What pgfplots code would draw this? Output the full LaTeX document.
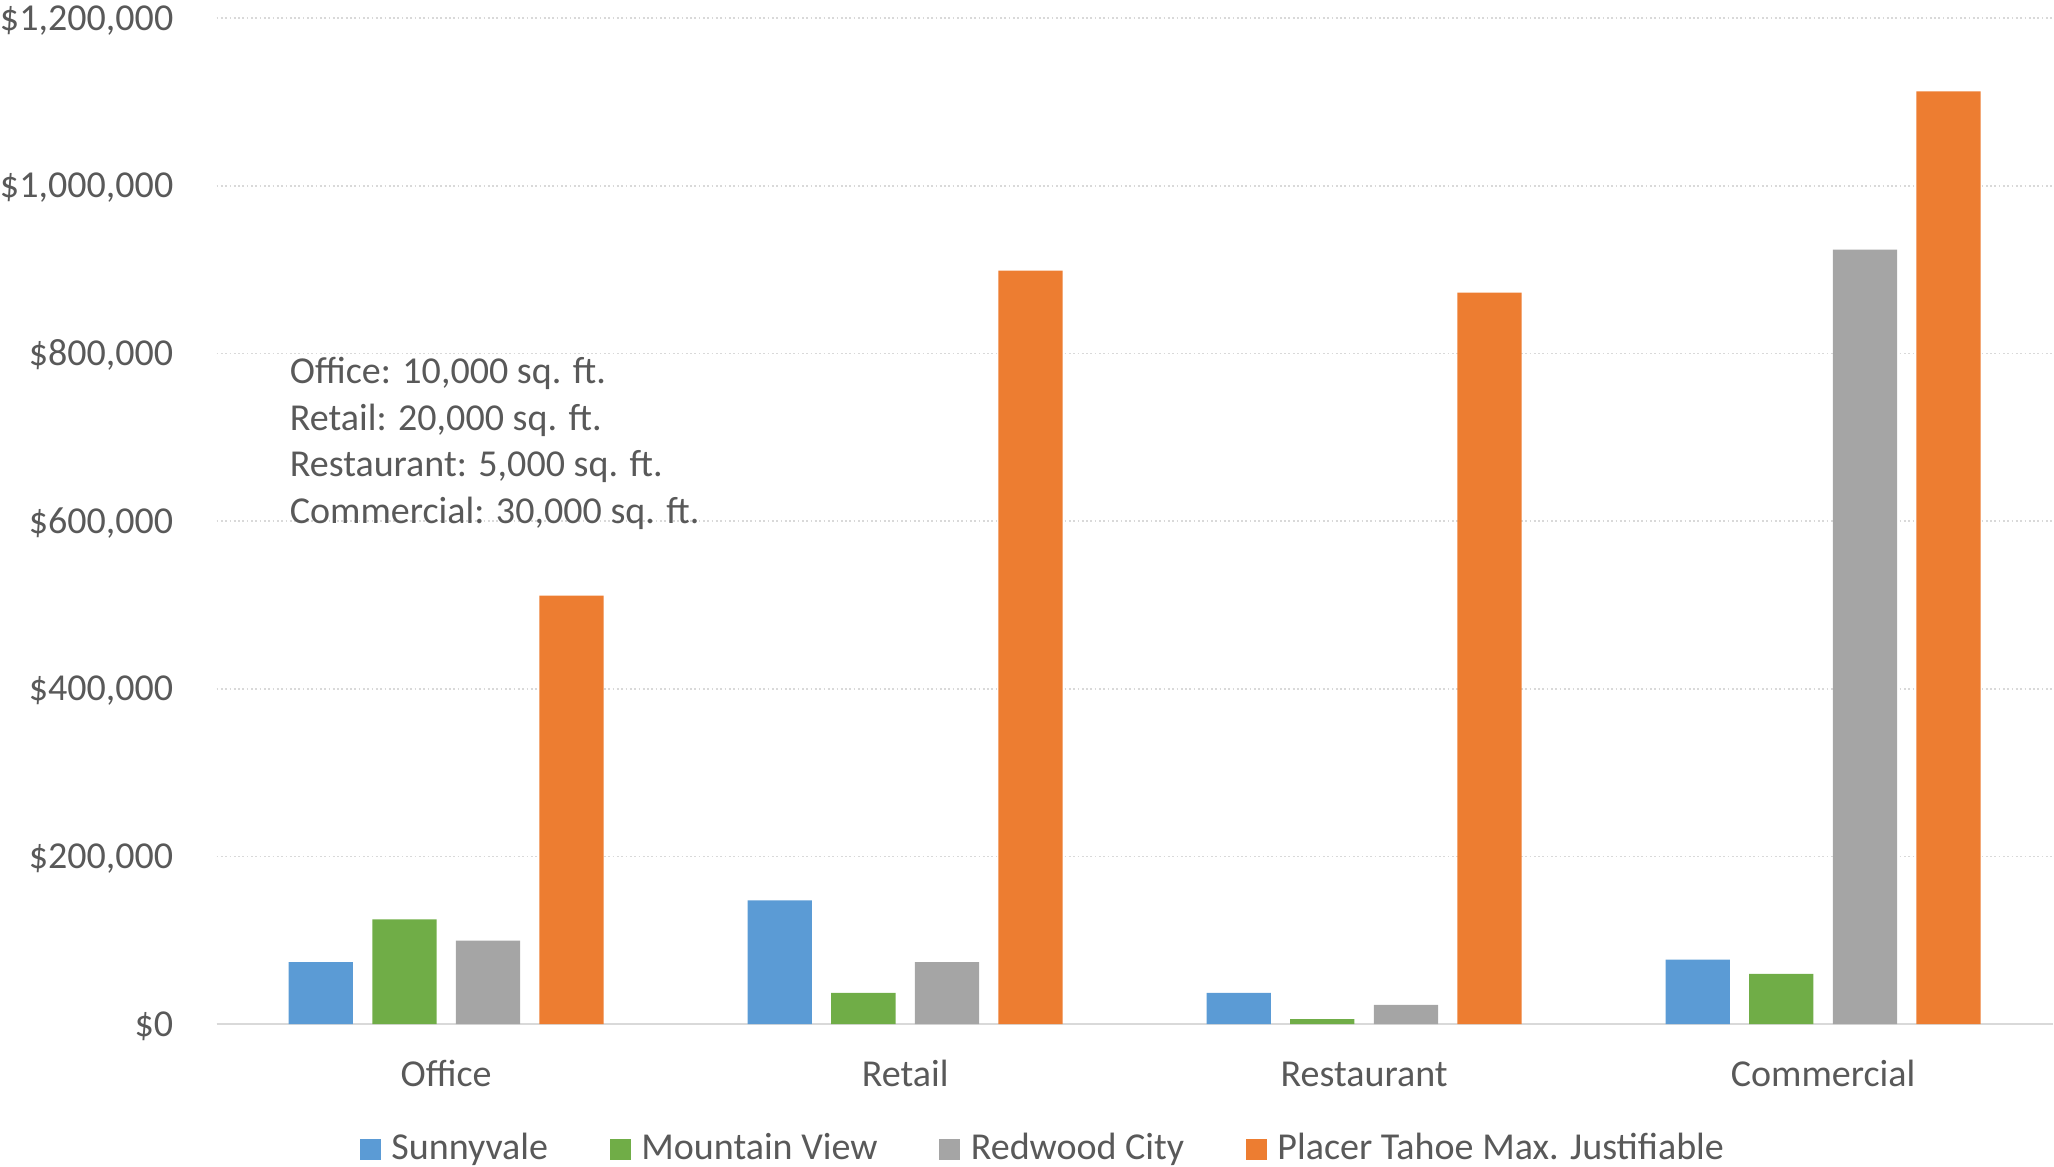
\documentclass[border=0pt]{standalone}
\usepackage{pgfplots}
\pgfplotsset{compat=1.18}
\usepackage{fontspec}
\setmainfont{Carlito}
\definecolor{cblue}{HTML}{5B9BD5}
\definecolor{cgreen}{HTML}{70AD47}
\definecolor{cgray}{HTML}{A5A5A5}
\definecolor{corange}{HTML}{ED7D31}
\definecolor{ctext}{HTML}{595959}
\definecolor{cgrid}{HTML}{D9D9D9}
\newcommand{\cf}{\fontsize{19pt}{23pt}\selectfont}
\begin{document}
\begin{tikzpicture}
\begin{axis}[
  scale only axis, width=917pt, height=502.5pt,
  xmin=-0.5, xmax=3.5, ymin=0, ymax=1200000,
  ybar=0pt, bar width=0.14,
  axis x line*=bottom, axis y line*=left,
  x axis line style={-, draw=cgrid, line width=1.4pt},
  y axis line style={draw=none},
  major tick length=0pt,
  xtick={0,1,2,3}, xticklabels={Office,Retail,Restaurant,Commercial},
  ytick={0,200000,400000,600000,800000,1000000,1200000},
  yticklabels={{\$0},{\$200,000},{\$400,000},{\$600,000},{\$800,000},{\$1,000,000},{\$1,200,000}},
  scaled y ticks=false,
  ymajorgrids, grid style={cgrid, line width=0.85pt, dash pattern=on 0.85pt off 1.3pt},
  tick label style={font=\cf, text=ctext, inner sep=0pt},
  yticklabel style={anchor=base east, xshift=-21.5pt, yshift=-6pt},
  xticklabel style={anchor=base, yshift=-31pt},
  legend style={at={(axis description cs:0.4506,-0.1230)}, anchor=center, draw=none, fill=none,
    inner sep=0pt, font=\cf, text=ctext, legend columns=4,
    /tikz/every odd column/.append style={column sep=3.25pt},
    /tikz/every even column/.append style={column sep=28.8pt},
    cells={inner sep=0pt, anchor=base west}},
  legend image code/.code={\fill[#1] (0pt,0pt) rectangle (10.5pt,10.5pt);},
]
\addplot[fill=cblue, draw=none, bar shift=-0.273] coordinates {(0,74000) (1,147500) (2,37300) (3,76800)};
\addplot[fill=cgreen, draw=none, bar shift=-0.091] coordinates {(0,124800) (1,37300) (2,6000) (3,60000)};
\addplot[fill=cgray, draw=none, bar shift=0.091] coordinates {(0,99500) (1,73800) (2,23000) (3,923700)};
\addplot[fill=corange, draw=none, bar shift=0.273] coordinates {(0,511000) (1,898600) (2,872600) (3,1112400)};
\legend{Sunnyvale, Mountain View, Redwood City, Placer Tahoe Max. Justifiable}
\node[anchor=base west, inner sep=0pt, font=\cf, text=ctext] at (axis cs:-0.3414,763800) {Office: 10,000 sq. ft.};
\node[anchor=base west, inner sep=0pt, font=\cf, text=ctext] at (axis cs:-0.3414,708300) {Retail: 20,000 sq. ft.};
\node[anchor=base west, inner sep=0pt, font=\cf, text=ctext] at (axis cs:-0.3414,652800) {Restaurant: 5,000 sq. ft.};
\node[anchor=base west, inner sep=0pt, font=\cf, text=ctext] at (axis cs:-0.3414,597400) {Commercial: 30,000 sq. ft.};
\end{axis}
\path (current axis.north west) -- ++(0pt,9pt);
\end{tikzpicture}
\end{document}
